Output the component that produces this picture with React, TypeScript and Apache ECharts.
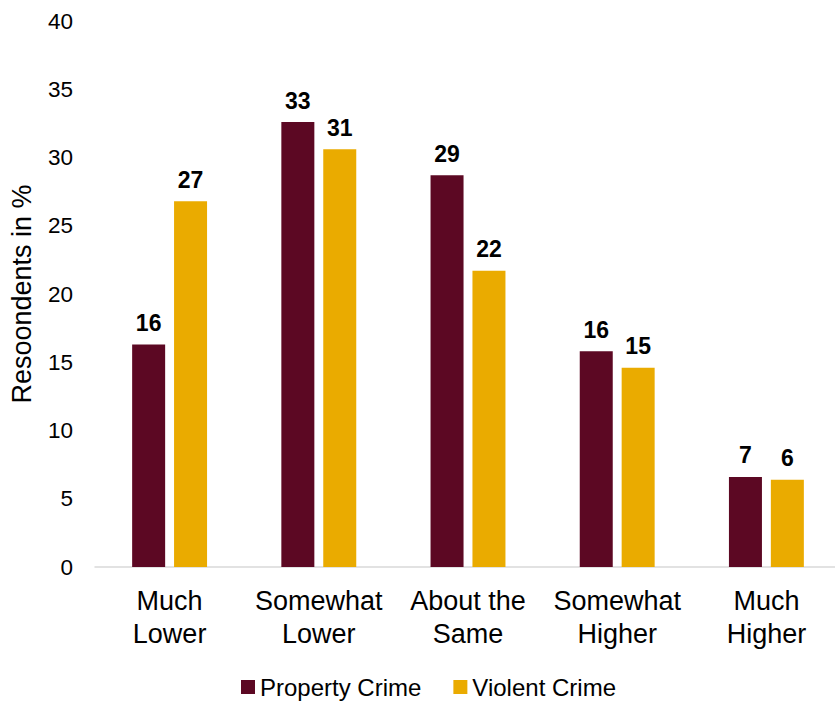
import React, { useEffect, useRef } from "react";
import * as echarts from "echarts";

const categories = ["Much\nLower", "Somewhat\nLower", "About the\nSame", "Somewhat\nHigher", "Much\nHigher"];
const propertyCrime = [16.3, 32.6, 28.7, 15.8, 6.6];
const violentCrime = [26.8, 30.6, 21.7, 14.6, 6.4];
const yTicks = { min: 0, max: 40, interval: 5 };

export default function App() {
  const ref = useRef<HTMLDivElement>(null);
  useEffect(() => {
    const chart = echarts.init(ref.current!, null, { renderer: "svg" });
    const font = "Liberation Sans, Arial, sans-serif";
    const label = {
      show: true,
      position: "top" as const,
      distance: 10,
      color: "#000",
      fontWeight: "bold" as const,
      fontSize: 23,
      fontFamily: font,
      formatter: (p: any) => String(Math.round(p.value)),
    };
    chart.setOption({
      animation: false,
      textStyle: { fontFamily: font },
      grid: { left: 95, top: 21, right: -6, bottom: 135, outerBoundsMode: "none", containLabel: false },
      legend: {
        top: 670,
        left: 236,
        itemWidth: 14,
        itemHeight: 14,
        itemGap: 32,
        icon: "rect",
        textStyle: { fontSize: 24, color: "#000", fontFamily: font },
        data: ["Property Crime", "Violent Crime"],
      },
      xAxis: {
        type: "category",
        data: categories,
        axisLine: { lineStyle: { color: "#d9d9d9", width: 1.5 } },
        axisTick: { show: false },
        axisLabel: {
          interval: 0,
          hideOverlap: false,
          fontSize: 27,
          color: "#000",
          lineHeight: 33,
          margin: 17,
          fontFamily: font,
        },
      },
      yAxis: {
        type: "value",
        ...yTicks,
        name: "Resoondents in %",
        nameLocation: "middle",
        nameGap: 60,
        nameTextStyle: { fontSize: 27, color: "#000", fontFamily: font },
        splitLine: { show: false },
        axisLine: { show: false },
        axisTick: { show: false },
        axisLabel: { fontSize: 22.5, color: "#000", margin: 22, fontFamily: font },
      },
      series: [
        {
          name: "Property Crime",
          type: "bar",
          data: propertyCrime,
          barWidth: 33,
          barGap: "27%",
          itemStyle: { color: "#5C0823" },
          label,
        },
        {
          name: "Violent Crime",
          type: "bar",
          data: violentCrime,
          barWidth: 33,
          itemStyle: { color: "#EAAB00" },
          label,
        },
      ],
    });
    return () => chart.dispose();
  }, []);
  return <div ref={ref} style={{ width: 835, height: 702, position: "absolute", left: 0, top: 0 }} />;
}
